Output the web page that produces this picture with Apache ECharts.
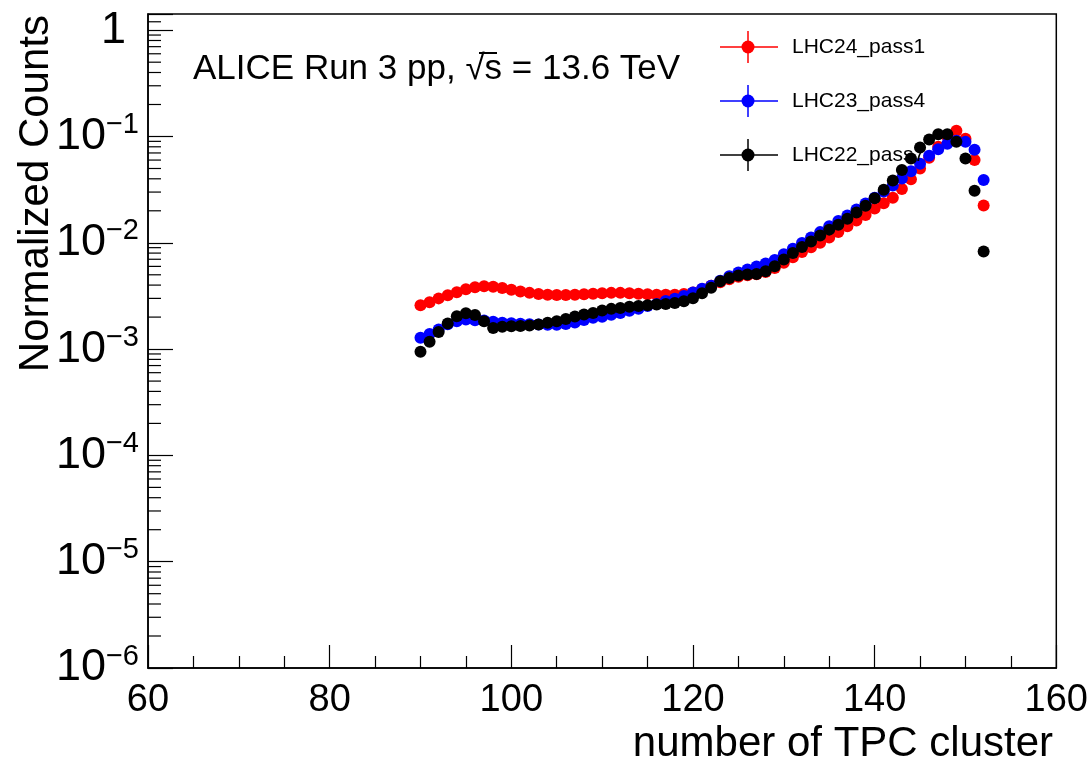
<!DOCTYPE html>
<html><head><meta charset="utf-8">
<script src="https://cdn.jsdelivr.net/npm/echarts@6/dist/echarts.min.js"></script>
<style>html,body{margin:0;padding:0;background:#fff}#c{width:1091px;height:763px}</style>
</head><body><div id="c"></div>
<script>
// ---- data ----
const xValues = [90,91,92,93,94,95,96,97,98,99,100,101,102,103,104,105,106,107,108,109,110,111,112,113,114,115,116,117,118,119,120,121,122,123,124,125,126,127,128,129,130,131,132,133,134,135,136,137,138,139,140,141,142,143,144,145,146,147,148,149,150,151,152];
const lhc24_pass1 = [2.59e-3,2.76e-3,3.0e-3,3.21e-3,3.43e-3,3.66e-3,3.82e-3,3.90e-3,3.85e-3,3.76e-3,3.62e-3,3.48e-3,3.38e-3,3.30e-3,3.25e-3,3.22e-3,3.22e-3,3.25e-3,3.28e-3,3.32e-3,3.36e-3,3.38e-3,3.38e-3,3.35e-3,3.32e-3,3.28e-3,3.25e-3,3.24e-3,3.25e-3,3.3e-3,3.4e-3,3.65e-3,3.95e-3,4.25e-3,4.55e-3,4.8e-3,4.95e-3,5.05e-3,5.3e-3,5.8e-3,6.5e-3,7.3e-3,8.2e-3,9.1e-3,1.0e-2,1.12e-2,1.26e-2,1.43e-2,1.62e-2,1.83e-2,2.1e-2,2.35e-2,2.65e-2,3.2e-2,3.95e-2,5.0e-2,6.3e-2,8.0e-2,0.1,0.113,0.095,0.06,0.0224];
const lhc23_pass4 = [1.28e-3,1.39e-3,1.53e-3,1.71e-3,1.83e-3,1.90e-3,1.87e-3,1.86e-3,1.81e-3,1.77e-3,1.75e-3,1.73e-3,1.71e-3,1.70e-3,1.69e-3,1.69e-3,1.72e-3,1.78e-3,1.88e-3,1.97e-3,2.02e-3,2.1e-3,2.18e-3,2.3e-3,2.4e-3,2.54e-3,2.66e-3,2.84e-3,2.98e-3,3.16e-3,3.4e-3,3.7e-3,3.95e-3,4.4e-3,4.85e-3,5.25e-3,5.6e-3,6.0e-3,6.4e-3,6.9e-3,7.8e-3,8.8e-3,9.97e-3,1.12e-2,1.26e-2,1.43e-2,1.6e-2,1.81e-2,2.06e-2,2.34e-2,2.66e-2,3.03e-2,3.45e-2,4.02e-2,4.72e-2,5.55e-2,6.6e-2,7.59e-2,8.55e-2,9.12e-2,8.9e-2,7.5e-2,3.9e-2];
const lhc22_pass7 = [9.46e-4,1.17e-3,1.45e-3,1.74e-3,2.04e-3,2.17e-3,2.09e-3,1.83e-3,1.58e-3,1.62e-3,1.64e-3,1.65e-3,1.67e-3,1.70e-3,1.77e-3,1.83e-3,1.92e-3,2.03e-3,2.12e-3,2.19e-3,2.31e-3,2.39e-3,2.44e-3,2.5e-3,2.54e-3,2.59e-3,2.63e-3,2.66e-3,2.72e-3,2.82e-3,3.01e-3,3.36e-3,3.78e-3,4.35e-3,4.67e-3,4.92e-3,5.02e-3,5.09e-3,5.40e-3,6.01e-3,6.95e-3,8.0e-3,9.12e-3,1.03e-2,1.17e-2,1.33e-2,1.48e-2,1.68e-2,1.93e-2,2.23e-2,2.62e-2,3.15e-2,3.85e-2,4.84e-2,6.22e-2,7.88e-2,9.38e-2,0.105,0.105,0.0892,0.0622,0.0308,8.3e-3];
const seriesNames = ['LHC24_pass1','LHC23_pass4','LHC22_pass7'];
const seriesColors = ['#ff0000','#0000ff','#000000'];
const xTickValues = [60,80,100,120,140,160];
const yDecadeExponents = [-6,-5,-4,-3,-2,-1,0];
const annotation = 'ALICE Run 3 pp, √s = 13.6 TeV';
const xTitle = 'number of TPC cluster';
const yTitle = 'Normalized Counts';

// ---- chart ----
const chart = echarts.init(document.getElementById('c'), null, {renderer:'canvas'});
const seriesData = [lhc24_pass1, lhc23_pass4, lhc22_pass7];
const FONT = '"Liberation Sans", Arial, sans-serif';

const minorY = [];
yDecadeExponents.forEach(e => { if (e < 0) for (let m = 2; m <= 9; m++) minorY.push([60, m * Math.pow(10, e)]); });
minorY.push([60, 1.2]);

const scatterSeries = seriesData.map((arr, i) => ({
  type: 'scatter', name: seriesNames[i],
  data: xValues.map((x, j) => [x, arr[j]]),
  symbol: 'circle', symbolSize: 12,
  itemStyle: {color: seriesColors[i], opacity: 1},
  z: 3 + i, silent: true
}));

const legendGraphics = [];
seriesNames.forEach((n, i) => {
  const cy = 47 + i * 54;
  legendGraphics.push({type:'line', shape:{x1:720,y1:cy,x2:778,y2:cy}, style:{stroke:seriesColors[i], lineWidth:1.5}, z:100});
  legendGraphics.push({type:'line', shape:{x1:748,y1:cy-16,x2:748,y2:cy+16}, style:{stroke:seriesColors[i], lineWidth:1.5}, z:100});
  legendGraphics.push({type:'circle', shape:{cx:748,cy:cy,r:6.5}, style:{fill:seriesColors[i]}, z:101});
  legendGraphics.push({type:'text', x:792, y:cy, style:{text:n, font:'21px ' + FONT, fill:'#000', textVerticalAlign:'middle'}, z:100});
});

chart.setOption({
  animation: false,
  backgroundColor: '#fff',
  grid: {left:148, right:34, top:14, bottom:95, show:true, borderColor:'#000', borderWidth:1.5, containLabel:false},
  xAxis: {
    type:'value', min:60, max:160, interval:20,
    axisLine:{show:true, lineStyle:{color:'#000', width:1.5}},
    axisTick:{show:true, inside:true, length:23, lineStyle:{color:'#000', width:1.2}},
    minorTick:{show:true, splitNumber:4, length:12, lineStyle:{color:'#000', width:1.2}},
    axisLabel:{fontSize:38, color:'#000', margin:14, fontFamily:FONT,
      formatter: v => xTickValues.indexOf(v) >= 0 ? String(v) : ''},
    splitLine:{show:false}
  },
  yAxis: {
    type:'log', logBase:10, min:1e-6, max:1.42, interval:1,
    axisLine:{show:true, lineStyle:{color:'#000', width:1.5}},
    axisTick:{show:true, inside:true, length:25, lineStyle:{color:'#000', width:1.2}},
    axisLabel:{color:'#000', margin:9, fontFamily:FONT,
      formatter: v => {
        const l = Math.log10(v), e = Math.round(l);
        if (Math.abs(l - e) > 1e-6 || yDecadeExponents.indexOf(e) < 0) return '';
        if (e === 0) return '{b|1}{g|}';
        return '{b|10}{s|−' + (-e) + '}';
      },
      rich:{
        b:{fontSize:45, fontFamily:FONT, color:'#000', lineHeight:52},
        s:{fontSize:29, fontFamily:FONT, color:'#000', verticalAlign:'top', lineHeight:29},
        g:{width:13}
      }
    },
    splitLine:{show:false}
  },
  series: scatterSeries.concat([{
    type:'custom', silent:true, z:2, clip:true,
    data: minorY,
    renderItem: (params, api) => {
      const p = api.coord([api.value(0), api.value(1)]);
      return {type:'line', shape:{x1:p[0], y1:p[1], x2:p[0]+13, y2:p[1]}, style:{stroke:'#000', lineWidth:1.2}};
    }
  }]),
  graphic: [
    {type:'text', x:193, y:69, style:{text:annotation, font:'35px ' + FONT, fill:'#000', textVerticalAlign:'middle'}, z:100},
    {type:'line', shape:{x1:479, y1:53, x2:497, y2:53}, style:{stroke:'#000', lineWidth:2}, z:100},
    {type:'text', x:1053, y:744, style:{text:xTitle, font:'42px ' + FONT, fill:'#000', textAlign:'right', textVerticalAlign:'middle'}, z:100},
    {type:'text', x:36, y:15, rotation:Math.PI/2, style:{text:yTitle, font:'42px ' + FONT, fill:'#000', textAlign:'right', textVerticalAlign:'middle'}, z:100}
  ].concat(legendGraphics)
});
</script>
</body></html>
